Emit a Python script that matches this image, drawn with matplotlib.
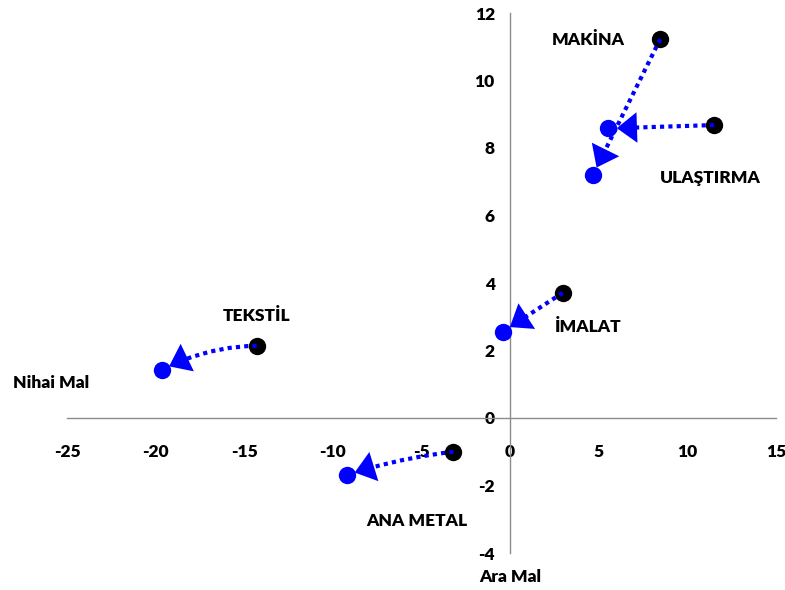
import matplotlib
matplotlib.use('Agg')
import matplotlib.pyplot as plt
from matplotlib.patches import FancyArrowPatch

plt.rcParams['font.family'] = ['Lato', 'DejaVu Sans']
plt.rcParams['font.weight'] = 'bold'

# ---- data ----
sectors = ['MAKİNA', 'ULAŞTIRMA', 'İMALAT', 'TEKSTİL', 'ANA METAL']
start_x = [8.47, 11.51, 2.97, -14.3, -3.2]
start_y = [11.23, 8.68, 3.71, 2.14, -1.0]
end_x = [4.67, 5.55, -0.41, -19.66, -9.22]
end_y = [7.2, 8.58, 2.56, 1.42, -1.69]
label_x = [4.4, 11.29, 4.4, -14.28, -5.25]
label_y = [11.2, 7.11, 2.7, 3.02, -3.05]
curvature = [0.0, 0.0, 0.0, 0.12, 0.05]
x_ticks = [-25, -20, -15, -10, -5, 0, 5, 10, 15]
y_ticks = [-4, -2, 0, 2, 4, 6, 8, 10, 12]
x_axis_title = 'Nihai Mal'
y_axis_title = 'Ara Mal'

W, H = 785, 590
FS = 12.5
fig = plt.figure(figsize=(W / 100, H / 100), dpi=100)
ax = fig.add_axes([67 / W, 37 / H, 709 / W, 540 / H])
ax.set_xlim(-25, 15)
ax.set_ylim(-4, 12)

for s in ['top', 'right']:
    ax.spines[s].set_visible(False)
for s in ['left', 'bottom']:
    ax.spines[s].set_position(('data', 0))
    ax.spines[s].set_color('#8c8c8c')
    ax.spines[s].set_linewidth(1.0)

ax.set_xticks(x_ticks)
ax.set_yticks(y_ticks)
ax.set_xticklabels([str(v) for v in x_ticks])
ax.set_yticklabels([str(v) for v in y_ticks])
ax.tick_params(length=0, labelsize=FS)
ax.tick_params(axis='x', pad=19)
ax.tick_params(axis='y', pad=11)
for lab in ax.get_xticklabels() + ax.get_yticklabels():
    lab.set_fontweight('heavy')

blue = '#0000ff'
ax.plot(start_x, start_y, 'o', color='black', ms=12.5, mew=0, zorder=2, clip_on=False)

for sx, sy, ex, ey, r in zip(start_x, start_y, end_x, end_y, curvature):
    cs = f'arc3,rad={r}'
    line = FancyArrowPatch((sx, sy), (ex, ey), arrowstyle='-', connectionstyle=cs,
                           shrinkA=0, shrinkB=18, lw=3, linestyle=(0, (1, 1)),
                           color=blue, zorder=3, capstyle='butt')
    ax.add_patch(line)
    head = FancyArrowPatch((sx, sy), (ex, ey),
                           arrowstyle='-|>,head_length=14.5,head_width=11',
                           connectionstyle=cs, shrinkA=0, shrinkB=6, lw=0,
                           color=blue, zorder=3)
    ax.add_patch(head)

ax.plot(end_x, end_y, 'o', color=blue, ms=12.5, mew=0, zorder=4, clip_on=False)

for s, lx, ly in zip(sectors, label_x, label_y):
    ax.text(lx, ly, s, ha='center', va='center', fontsize=FS, fontweight='heavy')

ax.text(-25.9, 1.04, x_axis_title, ha='center', va='center', fontsize=FS,
        fontweight='heavy', clip_on=False)
ax.text(0, -4.71, y_axis_title, ha='center', va='center', fontsize=FS,
        fontweight='heavy', clip_on=False)

fig.savefig('out.png', dpi=100)
